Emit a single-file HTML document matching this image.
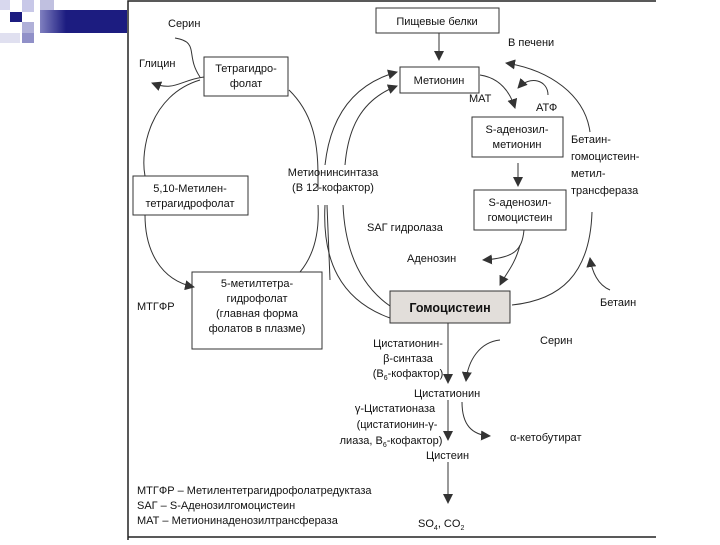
<!DOCTYPE html>
<html><head><meta charset="utf-8"><style>
body{margin:0;background:#fff;}
svg text{font-family:"Liberation Sans",sans-serif;font-size:11px;fill:#111;}
</style></head><body>
<svg width="720" height="540" viewBox="0 0 720 540" xmlns="http://www.w3.org/2000/svg">
<defs>
<linearGradient id="g" x1="0" x2="1"><stop offset="0" stop-color="#8080c0"/><stop offset="0.3" stop-color="#1c1c80"/><stop offset="1" stop-color="#1c1c80"/></linearGradient>
<marker id="a" viewBox="0 0 10 10" refX="9" refY="5" markerWidth="10" markerHeight="10" markerUnits="userSpaceOnUse" orient="auto-start-reverse"><path d="M0,0L10,5L0,10z" fill="#333"/></marker>
</defs>
<rect x="40" y="10" width="87" height="23" fill="url(#g)"/>
<rect x="0" y="0" width="10" height="10" fill="#d8d8ee"/>
<rect x="10" y="12" width="12" height="10" fill="#1c1c80"/>
<rect x="22" y="0" width="12" height="12" fill="#c8c8e8"/>
<rect x="22" y="22" width="12" height="11" fill="#b0b0d8"/>
<rect x="0" y="33" width="20" height="10" fill="#e0e0f0"/>
<rect x="22" y="33" width="12" height="10" fill="#9090c8"/>
<rect x="40" y="0" width="14" height="10" fill="#c0c0e0"/>
<path d="M128,540V1H656" fill="none" stroke="#222" stroke-width="1.5"/>
<path d="M128,537H656" stroke="#222" stroke-width="1.5"/>
<g fill="none" stroke="#333" stroke-width="1">
<rect x="204" y="57" width="84" height="39"/>
<rect x="133" y="176" width="115" height="39"/>
<rect x="192" y="272" width="130" height="77"/>
<rect x="376" y="8" width="123" height="25"/>
<rect x="400" y="67" width="79" height="26"/>
<rect x="472" y="117" width="91" height="40"/>
<rect x="474" y="190" width="92" height="40"/>
<rect x="390" y="291" width="120" height="32" fill="#e2deda"/>
<path d="M200,77C185,55 200,42 175,38"/>
<path d="M204,77C180,80 175,92 152,83" marker-end="url(#a)"/>
<path d="M200,80C150,95 140,150 145,176"/>
<path d="M145,215C145,250 160,280 194,287" marker-end="url(#a)"/>
<path d="M289,90C320,120 318,160 318,190"/>
<path d="M318,205C320,240 310,260 300,272"/>
<path d="M390,318C340,300 322,260 325,205M325,165C330,120 350,85 397,72" marker-end="url(#a)"/>
<path d="M390,306C360,285 345,250 343,205M345,165C348,130 360,100 397,86" marker-end="url(#a)"/>
<path d="M327,205L330,280"/>
<path d="M439,33V60" marker-end="url(#a)"/>
<path d="M480,75C500,78 510,92 515,108" marker-end="url(#a)"/>
<path d="M548,95C548,80 530,75 518,88" marker-end="url(#a)"/>
<path d="M518,163V186" marker-end="url(#a)"/>
<path d="M524,230C522,250 515,258 483,260" marker-end="url(#a)"/>
<path d="M520,245C515,265 505,275 500,285" marker-end="url(#a)"/>
<path d="M512,305C560,300 590,275 592,212"/>
<path d="M590,132C585,95 550,70 506,63" marker-end="url(#a)"/>
<path d="M610,290C598,285 592,272 590,258" marker-end="url(#a)"/>
<path d="M448,323V383" marker-end="url(#a)"/>
<path d="M448,400V440" marker-end="url(#a)"/>
<path d="M448,462V503" marker-end="url(#a)"/>
<path d="M500,340C480,342 468,360 466,381" marker-end="url(#a)"/>
<path d="M462,402C462,425 472,435 490,436" marker-end="url(#a)"/>
</g>
<text x="168" y="27">Серин</text>
<text x="139" y="67">Глицин</text>
<text x="246" y="72" text-anchor="middle">Тетрагидро-</text>
<text x="246" y="87" text-anchor="middle">фолат</text>
<text x="190" y="192" text-anchor="middle">5,10-Метилен-</text>
<text x="190" y="207" text-anchor="middle">тетрагидрофолат</text>
<text x="257" y="287" text-anchor="middle">5-метилтетра-</text>
<text x="257" y="302" text-anchor="middle">гидрофолат</text>
<text x="257" y="317" text-anchor="middle">(главная форма</text>
<text x="257" y="332" text-anchor="middle">фолатов в плазме)</text>
<text x="137" y="310">МТГФР</text>
<text x="437" y="25" text-anchor="middle">Пищевые белки</text>
<text x="508" y="46">В печени</text>
<text x="439" y="84" text-anchor="middle">Метионин</text>
<text x="469" y="102">МАТ</text>
<text x="536" y="111">АТФ</text>
<text x="517" y="133" text-anchor="middle">S-аденозил-</text>
<text x="517" y="148" text-anchor="middle">метионин</text>
<text x="571" y="143">Бетаин-</text>
<text x="571" y="160">гомоцистеин-</text>
<text x="571" y="177">метил-</text>
<text x="571" y="194">трансфераза</text>
<text x="333" y="176" text-anchor="middle">Метионинсинтаза</text>
<text x="333" y="191" text-anchor="middle">(В 12-кофактор)</text>
<text x="520" y="206" text-anchor="middle">S-аденозил-</text>
<text x="520" y="221" text-anchor="middle">гомоцистеин</text>
<text x="367" y="231">SAГ гидролаза</text>
<text x="407" y="262">Аденозин</text>
<text x="450" y="312" text-anchor="middle" style="font-weight:bold;font-size:12.5px">Гомоцистеин</text>
<text x="600" y="306">Бетаин</text>
<text x="408" y="347" text-anchor="middle">Цистатионин-</text>
<text x="408" y="362" text-anchor="middle">β-синтаза</text>
<text x="408" y="377" text-anchor="middle">(B<tspan font-size="7" dy="3">6</tspan><tspan dy="-3">-кофактор)</tspan></text>
<text x="540" y="344">Серин</text>
<text x="414" y="397">Цистатионин</text>
<text x="395" y="412" text-anchor="middle">γ-Цистатионаза</text>
<text x="397" y="428" text-anchor="middle">(цистатионин-γ-</text>
<text x="391" y="444" text-anchor="middle">лиаза, B<tspan font-size="7" dy="3">6</tspan><tspan dy="-3">-кофактор)</tspan></text>
<text x="510" y="441">α-кетобутират</text>
<text x="426" y="459">Цистеин</text>
<text x="137" y="494">МТГФР – Метилентетрагидрофолатредуктаза</text>
<text x="137" y="509">SAГ – S-Аденозилгомоцистеин</text>
<text x="137" y="524">МАТ – Метионинаденозилтрансфераза</text>
<text x="418" y="527">SO<tspan font-size="7" dy="3">4</tspan><tspan dy="-3">, CO</tspan><tspan font-size="7" dy="3">2</tspan></text>
</svg>
</body></html>
